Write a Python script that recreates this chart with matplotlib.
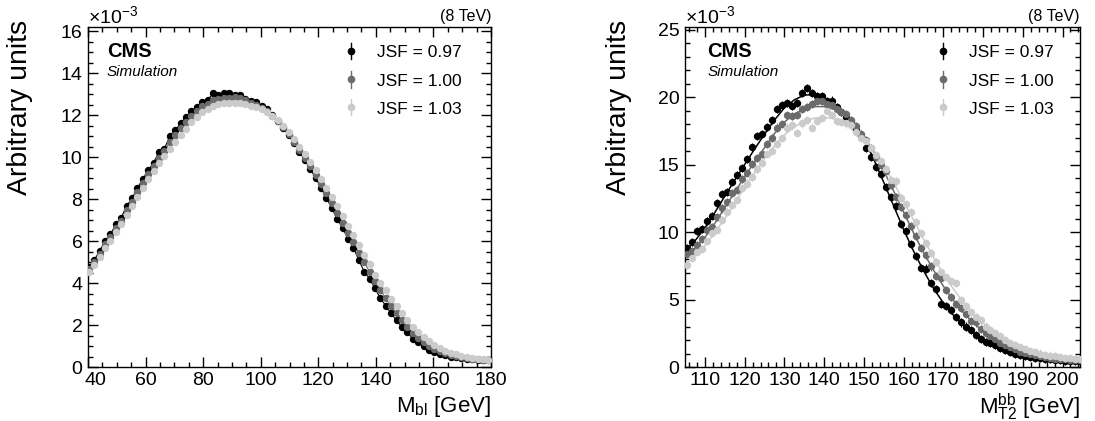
import numpy as np
import matplotlib
matplotlib.use("Agg")
import matplotlib.pyplot as plt
from matplotlib.ticker import MultipleLocator, FuncFormatter
from matplotlib.transforms import offset_copy

plt.rcParams['font.family'] = ['Liberation Sans', 'DejaVu Sans']
plt.rcParams['mathtext.fontset'] = 'custom'
plt.rcParams['mathtext.rm'] = 'Liberation Sans'
plt.rcParams['mathtext.it'] = 'Liberation Sans:italic'
plt.rcParams['mathtext.bf'] = 'Liberation Sans:bold'

# ---- data (values in units of 1e-3) ----
jsf_labels = ["JSF = 0.97", "JSF = 1.00", "JSF = 1.03"]
jsf_colors = ["#000000", "#6b6b6b", "#cbcbcb"]

# M_bl: 75 bins of 1.875 GeV, centres from 40.3 to 179.1
mbl_x = 40.3125 + 1.875 * np.arange(75)
mbl_097 = [4.78, 5.10, 5.53, 6.00, 6.33, 6.79, 7.12, 7.68, 8.04, 8.54,
           8.96, 9.38, 9.74, 10.25, 10.41, 11.00, 11.28, 11.61, 11.92, 12.19,
           12.40, 12.64, 12.71, 13.04, 12.95, 13.04, 13.04, 12.98, 12.98, 12.79,
           12.68, 12.64, 12.43, 12.30, 12.00, 11.70, 11.40, 11.05, 10.65, 10.25,
           9.85, 9.45, 9.00, 8.55, 8.05, 7.58, 7.05, 6.62, 6.12, 5.68,
           5.10, 4.55, 4.20, 3.75, 3.27, 2.92, 2.55, 2.22, 1.90, 1.65,
           1.35, 1.18, 0.98, 0.82, 0.70, 0.62, 0.55, 0.50, 0.46, 0.42,
           0.39, 0.36, 0.34, 0.33, 0.32]
mbl_100 = [4.66, 4.98, 5.38, 5.85, 6.20, 6.62, 6.98, 7.48, 7.88, 8.35,
           8.78, 9.18, 9.57, 9.98, 10.30, 10.72, 11.05, 11.40, 11.68, 11.98,
           12.20, 12.42, 12.55, 12.72, 12.78, 12.82, 12.84, 12.85, 12.80, 12.70,
           12.60, 12.50, 12.35, 12.22, 11.98, 11.70, 11.42, 11.10, 10.72, 10.35,
           9.98, 9.58, 9.17, 8.73, 8.28, 7.82, 7.35, 6.88, 6.40, 5.95,
           5.45, 4.98, 4.55, 4.12, 3.68, 3.28, 2.90, 2.55, 2.22, 1.92,
           1.62, 1.40, 1.18, 1.00, 0.85, 0.74, 0.65, 0.58, 0.52, 0.47,
           0.43, 0.40, 0.37, 0.35, 0.34]
mbl_103 = [4.55, 4.85, 5.22, 5.65, 6.02, 6.42, 6.80, 7.25, 7.65, 8.10,
           8.52, 8.95, 9.32, 9.70, 10.05, 10.40, 10.70, 11.05, 11.35, 11.65,
           11.90, 12.15, 12.30, 12.45, 12.55, 12.58, 12.58, 12.60, 12.58, 12.55,
           12.45, 12.38, 12.28, 12.15, 11.98, 11.75, 11.50, 11.22, 10.85, 10.50,
           10.15, 9.78, 9.40, 8.98, 8.55, 8.10, 7.65, 7.18, 6.72, 6.28,
           5.80, 5.35, 4.92, 4.40, 4.02, 3.65, 3.25, 2.90, 2.55, 2.22,
           1.92, 1.65, 1.42, 1.22, 1.05, 0.90, 0.78, 0.68, 0.60, 0.53,
           0.48, 0.44, 0.40, 0.37, 0.35]

# M_T2^bb: 80 bins of 1.25 GeV from 105 to 205
mt2_x = 105.625 + 1.25 * np.arange(80)
mt2_097 = [8.85, 9.25, 10.05, 10.2, 10.85, 11.2, 12.15, 12.85, 12.95, 13.7,
           14.25, 14.75, 15.45, 16.3, 17.15, 17.25, 17.8, 18.3, 19.1, 19.4,
           19.55, 19.35, 19.6, 20.3, 20.65, 20.3, 20.05, 20.1, 19.7, 19.75,
           19.3, 18.9, 18.55, 18.15, 17.6, 17.15, 16.2, 15.6, 14.85, 14.3,
           13.35, 12.6, 11.95, 10.6, 10.1, 9.15, 8.25, 7.35, 7.3, 6.2,
           5.8, 4.65, 4.5, 4.2, 3.7, 3.3, 3.0, 2.75, 2.4, 2.1,
           1.85, 1.75, 1.6, 1.4, 1.25, 1.1, 1.0, 0.9, 0.85, 0.76,
           0.7, 0.66, 0.6, 0.57, 0.52, 0.5, 0.48, 0.46, 0.44, 0.42]
mt2_100 = [8.35, 8.6, 9.05, 9.5, 10.15, 10.35, 11.1, 11.75, 12.2, 12.9,
           13.1, 13.95, 14.35, 15.05, 15.5, 15.8, 16.55, 16.95, 17.75, 18.0,
           18.65, 18.6, 18.7, 19.15, 19.3, 19.5, 19.7, 19.75, 19.5, 19.4,
           19.15, 18.9, 18.75, 18.3, 17.85, 17.3, 16.85, 16.25, 15.6, 14.95,
           14.55, 13.5, 12.6, 11.85, 11.25, 10.45, 9.7, 8.8, 8.3, 7.45,
           6.75, 6.6, 5.7, 5.2, 4.65, 4.4, 3.95, 3.4, 3.3, 2.8,
           2.5, 2.3, 2.05, 1.75, 1.6, 1.45, 1.3, 1.12, 1.05, 0.95,
           0.88, 0.8, 0.72, 0.68, 0.63, 0.6, 0.57, 0.55, 0.52, 0.5]
mt2_103 = [7.55, 8.1, 8.55, 8.75, 9.35, 9.9, 10.15, 10.9, 11.5, 12.0,
           12.35, 13.3, 13.6, 14.05, 14.7, 15.15, 15.8, 16.0, 16.55, 17.0,
           17.75, 17.9, 17.35, 18.05, 18.3, 17.75, 18.25, 18.45, 18.95, 18.7,
           18.2, 18.15, 18.05, 17.9, 17.45, 16.95, 16.75, 16.2, 15.7, 15.3,
           14.7, 13.85, 13.75, 12.55, 12.1, 11.5, 10.75, 9.95, 9.2, 8.45,
           7.8, 7.05, 6.7, 6.35, 6.2, 4.95, 4.5, 4.1, 3.7, 3.45,
           3.0, 2.75, 2.55, 2.3, 2.0, 1.8, 1.65, 1.45, 1.35, 1.2,
           1.1, 1.0, 0.92, 0.85, 0.78, 0.74, 0.68, 0.65, 0.62, 0.6]

# fitted shapes for M_T2^bb, read every 2.5 GeV
fit_x = np.arange(105, 205.01, 2.5)
fit_097 = [8.6, 9.35, 10.3, 11.45, 12.65, 13.85, 15.0, 16.15, 17.25, 18.3,
           19.2, 19.8, 20.15, 20.2, 19.95, 19.5, 18.8, 17.95, 16.9, 15.4,
           13.7, 11.95, 10.2, 8.6, 7.15, 5.85, 4.75, 3.85, 3.15, 2.55,
           2.05, 1.65, 1.32, 1.07, 0.88, 0.74, 0.63, 0.55, 0.49, 0.45, 0.42]
fit_100 = [8.1, 8.8, 9.6, 10.65, 11.8, 12.95, 14.1, 15.2, 16.25, 17.3,
           18.15, 18.75, 19.1, 19.3, 19.3, 19.1, 18.7, 18.0, 17.1, 15.95,
           14.55, 13.05, 11.5, 9.95, 8.5, 7.2, 6.0, 4.95, 4.05, 3.3,
           2.65, 2.12, 1.7, 1.36, 1.1, 0.9, 0.76, 0.65, 0.58, 0.53, 0.49]
fit_103 = [7.6, 8.25, 9.0, 9.95, 11.0, 12.15, 13.3, 14.4, 15.45, 16.4,
           17.2, 17.8, 18.2, 18.45, 18.5, 18.4, 18.1, 17.6, 16.9, 16.0,
           14.9, 13.65, 12.3, 10.9, 9.5, 8.15, 6.9, 5.8, 4.8, 3.95,
           3.25, 2.65, 2.15, 1.75, 1.42, 1.16, 0.96, 0.81, 0.71, 0.64, 0.58]

mbl_err = 0.07
mt2_err = 0.3

W, H = 1095, 421
XPAD = 3.5


def style_axes(ax, xlim, ylim, xmaj, xmin, ymaj, ymin):
    ax.set_xlim(*xlim)
    ax.set_ylim(*ylim)
    ax.xaxis.set_major_locator(MultipleLocator(xmaj))
    ax.xaxis.set_minor_locator(MultipleLocator(xmin))
    ax.yaxis.set_major_locator(MultipleLocator(ymaj))
    ax.yaxis.set_minor_locator(MultipleLocator(ymin))
    ax.tick_params(which='both', direction='in', top=True, right=True,
                   labelsize=14, width=1)
    ax.tick_params(which='major', length=7.5)
    ax.tick_params(which='minor', length=3.8)
    ax.tick_params(axis='x', pad=XPAD)
    ax.tick_params(axis='y', pad=4)
    for s in ax.spines.values():
        s.set_linewidth(1)


def add_legend(ax):
    ys = [0.930, 0.846, 0.764]
    for y, lab, col in zip(ys, jsf_labels, jsf_colors):
        ax.plot([0.652, 0.652], [y - 0.024, y + 0.024], transform=ax.transAxes,
                color=col, lw=1)
        ax.plot([0.652], [y], 'o', transform=ax.transAxes, color=col, ms=4.5)
        ax.text(0.718, y - 0.019, lab, transform=ax.transAxes, fontsize=12.5,
                ha='left', va='baseline')


def add_cms(ax, x):
    ax.text(x, 0.912, "CMS", transform=ax.transAxes, fontsize=14.5,
            fontweight='bold', ha='left', va='baseline')
    ax.text(x, 0.856, "Simulation", transform=ax.transAxes, fontsize=11,
            style='italic', ha='left', va='baseline')


fig = plt.figure(figsize=(W / 100, H / 100), dpi=100)
ax1 = fig.add_axes([88 / W, 1 - 367 / H, 403 / W, 340 / H])
ax2 = fig.add_axes([685 / W, 1 - 367 / H, 395 / W, 340 / H])

# left: M_bl
for vals, col in zip([mbl_097, mbl_100, mbl_103], jsf_colors):
    ax1.plot(mbl_x, vals, color=col, lw=0.8, zorder=2)
for vals, col in zip([mbl_097, mbl_100, mbl_103], jsf_colors):
    ax1.errorbar(mbl_x, vals, yerr=mbl_err, fmt='o', color=col, ms=4.3,
                 elinewidth=0.8, capsize=0, zorder=3)
style_axes(ax1, (40, 180), (0, 16.2), 20, 5, 2, 0.5)
add_legend(ax1)
add_cms(ax1, 0.047)
# the "40" at the corner is pushed right, clear of the y label "0"
ax1.xaxis.set_major_formatter(FuncFormatter(lambda v, p: '' if v == 40 else f'{v:.0f}'))
ax1.text(40, 0, "40", fontsize=14, ha='left', va='top',
         transform=offset_copy(ax1.get_xaxis_transform(), fig=fig,
                               x=-2.5, y=-XPAD, units='points'))

# right: M_T2^bb
for vals, col in zip([fit_097, fit_100, fit_103], jsf_colors):
    ax2.plot(fit_x, vals, color=col, lw=1.1, zorder=2)
for vals, col in zip([mt2_097, mt2_100, mt2_103], jsf_colors):
    ax2.errorbar(mt2_x, vals, yerr=mt2_err, fmt='o', color=col, ms=4.3,
                 elinewidth=0.8, capsize=0, zorder=3)
style_axes(ax2, (105, 204.4), (0, 25.2), 10, 2, 5, 1)
add_legend(ax2)
add_cms(ax2, 0.056)

# outer texts
for x0, x1, xlab, base in [(88, 491, r'M$_{\mathrm{bl}}$ [GeV]', 412),
                           (685, 1080, r'M$_{\mathrm{T2}}^{\mathrm{bb}}$ [GeV]', 414)]:
    fig.text(x0 / W, 1 - 23 / H, r'$\times$10$^{-3}$', fontsize=14,
             ha='left', va='baseline')
    fig.text(x1 / W, 1 - 21 / H, "(8 TeV)", fontsize=11.5,
             ha='right', va='baseline')
    fig.text(x1 / W, 1 - base / H, xlab, fontsize=16,
             ha='right', va='baseline')

fig.text(20 / W, 1 - 20 / H, "Arbitrary units", fontsize=20.5,
         rotation=90, ha='center', va='top')
fig.text(619 / W, 1 - 20 / H, "Arbitrary units", fontsize=20.5,
         rotation=90, ha='center', va='top')

fig.savefig("out.png", dpi=100)
